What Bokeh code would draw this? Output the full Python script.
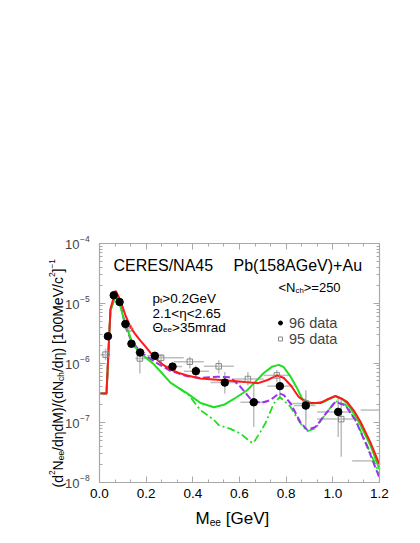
import math
import numpy as np
from bokeh.plotting import figure
from bokeh.models import (Label, Legend, LegendItem, LinearAxis, LogAxis, FixedTicker,
                          SingleIntervalTicker, CustomJSTickFormatter, PrintfTickFormatter,
                          Range1d, ColumnDataSource)
from bokeh.embed import file_html
from bokeh.resources import INLINE

# ---------------- data ----------------
# 96 data (filled circles)
d96_m   = [0.036, 0.061, 0.086, 0.111, 0.137, 0.174, 0.237, 0.313, 0.413, 0.537, 0.661, 0.773, 0.884, 1.023]
d96_y   = [2.8e-6, 1.36e-5, 1.05e-5, 4.5e-6, 2.1e-6, 1.5e-6, 1.32e-6, 8.7e-7, 7.3e-7, 4.7e-7, 2.2e-7, 4.1e-7, 1.94e-7, 1.52e-7]
d96_mlo = [0.036, 0.061, 0.086, 0.111, 0.137, 0.154, 0.204, 0.276, 0.361, 0.476, 0.604, 0.719, 0.833, 0.933]
d96_mhi = [0.036, 0.061, 0.086, 0.111, 0.137, 0.197, 0.276, 0.354, 0.469, 0.604, 0.719, 0.833, 0.926, 1.090]
d96_ylo = [2.5e-6, 1.25e-5, 9.6e-6, 4.1e-6, 1.9e-6, 1.3e-6, 1.15e-6, 7.5e-7, 5.9e-7, 3.1e-7, 8.5e-8, 2.7e-7, 8.5e-8, 5.8e-8]
d96_yhi = [3.1e-6, 1.47e-5, 1.15e-5, 4.9e-6, 2.3e-6, 1.7e-6, 1.5e-6, 1.0e-6, 9.0e-7, 7.1e-7, 4.5e-7, 5.9e-7, 3.5e-7, 2.7e-7]

# 95 data (open squares)
d95_m   = [0.026, 0.126, 0.173, 0.264, 0.387, 0.511, 0.636, 0.760, 0.884, 1.036, 1.250, 1.240]
d95_y   = [1.38e-6, 3.8e-6, 1.19e-6, 1.22e-6, 1.05e-6, 8.8e-7, 5.4e-7, 6.2e-7, 2.1e-7, 1.15e-7, 1.63e-7, 2.3e-8]
d95_mlo = [0.004, 0.104, 0.154, 0.204, 0.319, 0.447, 0.576, 0.704, 0.819, 0.933, 1.119, 1.083]
d95_mhi = [0.047, 0.147, 0.197, 0.361, 0.447, 0.576, 0.704, 0.819, 0.933, 1.104, 1.381, 1.397]
d95_ylo = [1.11e-6, 3.4e-6, 6.7e-7, 9.8e-7, 8.1e-7, 6.7e-7, 4.25e-7, 4.8e-7, 1.1e-7, 2.7e-8, 1.63e-7, 2.3e-8]
d95_yhi = [1.75e-6, 4.3e-6, 1.54e-6, 1.4e-6, 1.27e-6, 1.11e-6, 7.1e-7, 7.6e-7, 3.1e-7, 2.4e-7, 1.63e-7, 2.3e-8]

# model curves
red_m = [0.004, 0.030, 0.047, 0.069, 0.090, 0.111, 0.133, 0.150, 0.176, 0.200, 0.233, 0.270, 0.304, 0.340,
         0.376, 0.433, 0.504, 0.576, 0.647, 0.680, 0.720, 0.762, 0.790, 0.820, 0.854, 0.890, 0.947, 0.980,
         1.011, 1.040, 1.061, 1.090, 1.119, 1.161, 1.200]
red_y = [3.1e-7, 3.1e-7, 8.1e-6, 1.62e-5, 1.12e-5, 6.3e-6, 4.0e-6, 3.16e-6, 2.34e-6, 1.82e-6, 1.26e-6, 9.5e-7,
         7.8e-7, 6.8e-7, 6.2e-7, 5.5e-7, 5.25e-7, 5.0e-7, 4.7e-7, 4.6e-7, 5.2e-7, 6.2e-7, 5.6e-7, 4.2e-7,
         2.7e-7, 2.14e-7, 2.14e-7, 2.5e-7, 2.8e-7, 2.5e-7, 2.24e-7, 1.6e-7, 1.03e-7, 4.7e-8, 2.0e-8]

green_m = [0.004, 0.030, 0.047, 0.069, 0.090, 0.111, 0.126, 0.140, 0.176, 0.233, 0.270, 0.304, 0.340, 0.376,
           0.433, 0.490, 0.533, 0.576, 0.633, 0.704, 0.740, 0.769, 0.790, 0.819, 0.845, 0.869, 0.911, 0.961,
           1.011, 1.040, 1.061, 1.090, 1.119, 1.161, 1.200]
green_y = [3.1e-7, 3.1e-7, 7.6e-6, 1.32e-5, 8.9e-6, 4.2e-6, 3.16e-6, 2.1e-6, 1.45e-6, 9.5e-7, 6.6e-7, 4.7e-7,
           3.8e-7, 3.1e-7, 2.14e-7, 1.82e-7, 2.0e-7, 2.5e-7, 3.5e-7, 6.8e-7, 8.7e-7, 9.3e-7, 8.5e-7, 5.9e-7,
           3.9e-7, 2.5e-7, 2.1e-7, 2.24e-7, 2.8e-7, 2.5e-7, 2.1e-7, 1.45e-7, 9.1e-8, 4.2e-8, 1.66e-8]

purple_m = [0.004, 0.030, 0.047, 0.069, 0.090, 0.111, 0.133, 0.176, 0.233, 0.304, 0.376, 0.433, 0.504, 0.562,
            0.604, 0.625, 0.647, 0.690, 0.733, 0.769, 0.790, 0.819, 0.861, 0.890, 0.926, 0.969, 1.011, 1.054,
            1.097, 1.147, 1.200]
purple_y = [3.1e-7, 3.1e-7, 7.6e-6, 1.45e-5, 9.5e-6, 4.2e-6, 2.5e-6, 1.51e-6, 1.07e-6, 7.4e-7, 6.0e-7, 5.6e-7,
            5.9e-7, 5.75e-7, 4.0e-7, 3.2e-7, 2.5e-7, 2.14e-7, 2.4e-7, 3.1e-7, 2.9e-7, 2.1e-7, 1.02e-7, 7.6e-8,
            8.5e-8, 1.41e-7, 2.24e-7, 1.95e-7, 1.1e-7, 4.0e-8, 1.2e-8]

gdd_m = [0.340, 0.383, 0.433, 0.490, 0.511, 0.561, 0.604, 0.647, 0.660, 0.690, 0.711, 0.747, 0.773, 0.819,
         0.861, 0.890, 0.926, 0.969, 1.011, 1.054, 1.097, 1.147, 1.200]
gdd_y = [3.8e-7, 2.9e-7, 1.62e-7, 1.12e-7, 9.1e-8, 7.9e-8, 6.6e-8, 4.8e-8, 4.6e-8, 7.1e-8, 9.8e-8, 2.1e-7,
         2.7e-7, 1.84e-7, 9.8e-8, 7.2e-8, 8.1e-8, 1.41e-7, 2.3e-7, 2.0e-7, 1.12e-7, 4.2e-8, 1.38e-8]

x_lim = (0.0, 1.2)
x_ticks_interval = 0.2
y_ticks = [1e-8, 1e-7, 1e-6, 1e-5, 1e-4]
y_tick_exps = ["\u22128", "\u22127", "\u22126", "\u22125", "\u22124"]

# ---------------- layout ----------------
W, H = 416, 540
FL, FT, FR, FB = 99, 243, 379, 482   # plot box edges in page pixels
FONT = "Liberation Sans"
ARIAL = {' ': 278, '(': 333, ')': 333, '+': 584, '-': 333, '.': 278, '/': 278, '<': 584, '=': 584,
         '>': 584, '[': 278, ']': 278, 'A': 667, 'C': 722, 'E': 667, 'G': 778, 'M': 833, 'N': 722,
         'P': 667, 'R': 722, 'S': 667, 'V': 667, 'a': 556, 'b': 556, 'c': 500, 'd': 556, 'e': 556,
         'h': 556, 'm': 833, 'p': 556, 'r': 333, 't': 278, 'u': 556, '\u03b7': 556, '\u0398': 778,
         '\u2212': 584}
for ch in "0123456789":
    ARIAL[ch] = 556


def tw(s, size):
    return sum(ARIAL.get(c, 556) for c in s) * size / 1000.0


# the frame covers the whole canvas; axes are pinned to the plot box with fixed_location
ylo_log, yhi_log = math.log10(y_ticks[0]), math.log10(y_ticks[-1])
ppu = (FR - FL) / (x_lim[1] - x_lim[0])
ppd = (FB - FT) / (yhi_log - ylo_log)
xr = Range1d(x_lim[0] - FL / ppu, x_lim[1] + (W - FR) / ppu)
yr = Range1d(10 ** (ylo_log - (H - FB) / ppd), 10 ** (yhi_log + FT / ppd))

p = figure(width=W, height=H, output_backend="svg", toolbar_location=None, title=None,
           y_axis_type="log", x_range=xr, y_range=yr, x_axis_location=None, y_axis_location=None,
           min_border_left=0, min_border_right=0, min_border_top=0, min_border_bottom=0)
p.xgrid.visible = False
p.ygrid.visible = False
p.outline_line_color = None
p.background_fill_color = "white"
p.border_fill_color = "white"


def sx(xp):
    return xp


def sy(yp):
    return H - yp


AX = "#a8a8a8"
empty = CustomJSTickFormatter(code="return ''")
xt = SingleIntervalTicker(interval=x_ticks_interval, num_minor_ticks=3)
minor_y = [m * t for t in y_ticks[:-1] for m in range(2, 10)]
yt = FixedTicker(ticks=y_ticks, minor_ticks=minor_y)
xb = (x_lim[0] - 1e-9, x_lim[1] + 1e-9)
yb = (y_ticks[0] * 0.9999, y_ticks[-1] * 1.0001)


def style_axis(ax):
    ax.axis_line_color = AX
    ax.axis_line_width = 1.2
    ax.major_tick_line_color = AX
    ax.minor_tick_line_color = AX
    ax.major_tick_in = 6
    ax.major_tick_out = 0
    ax.minor_tick_in = 3
    ax.minor_tick_out = 0
    ax.major_label_text_font = FONT
    ax.major_label_text_color = "black"


bottom = LinearAxis(ticker=xt, formatter=PrintfTickFormatter(format="%.1f"),
                    fixed_location=y_ticks[0], bounds=xb)
style_axis(bottom)
bottom.major_label_text_font_size = "13.5px"
bottom.major_label_standoff = 6
p.add_layout(bottom, "below")

top = LinearAxis(ticker=xt, formatter=empty, fixed_location=y_ticks[-1], bounds=xb)
style_axis(top)
p.add_layout(top, "above")

left = LogAxis(ticker=yt, formatter=empty, fixed_location=x_lim[0], bounds=yb)
style_axis(left)
p.add_layout(left, "left")

right = LogAxis(ticker=yt, formatter=empty, fixed_location=x_lim[1], bounds=yb)
style_axis(right)
p.add_layout(right, "right")


# ---------------- error bars (limited to the plot box) ----------------
def src(m, y, mlo, mhi, ylo, yhi):
    m, y, mlo, mhi = map(np.asarray, (m, y, mlo, mhi))
    return ColumnDataSource(dict(m=m, y=y, mlo=np.clip(mlo, *x_lim), mhi=np.clip(mhi, *x_lim),
                                 ylo=np.asarray(ylo), yhi=np.asarray(yhi),
                                 ma=np.where(m <= x_lim[1], 1.0, 0.0)))


s96 = src(d96_m, d96_y, d96_mlo, d96_mhi, d96_ylo, d96_yhi)
s95 = src(d95_m, d95_y, d95_mlo, d95_mhi, d95_ylo, d95_yhi)
EB = "#bdbdbd"
for s in (s95, s96):
    p.segment(x0="mlo", x1="mhi", y0="y", y1="y", source=s, line_color=EB, line_width=1.5)
    p.segment(x0="m", x1="m", y0="ylo", y1="yhi", source=s, line_color=EB, line_width=1.5,
              line_alpha="ma")

# ---------------- curves ----------------
p.line(gdd_m, gdd_y, line_color="#22dd22", line_width=1.8, line_dash="8 3 2 3")
p.line(purple_m, purple_y, line_color="#9933ee", line_width=2, line_dash="7 3")
p.line(green_m, green_y, line_color="#22dd22", line_width=2)
p.line(red_m, red_y, line_color="#ff1a1a", line_width=2)

# ---------------- markers ----------------
r95 = p.scatter("m", "y", source=s95, marker="square", size=5.5, fill_color="white", fill_alpha=0,
                line_color="#888888", line_width=1, line_alpha="ma")
r96 = p.scatter("m", "y", source=s96, marker="circle", size=7.5, fill_color="black", line_color="black")

leg = Legend(items=[LegendItem(label="96 data", renderers=[r96]),
                    LegendItem(label="95 data", renderers=[r95])],
             location=(275, H - 346.5), orientation="vertical",
             glyph_width=10, glyph_height=15, label_height=15, spacing=-4, padding=0, margin=0,
             label_standoff=4, label_text_font=FONT, label_text_font_size="14.5px",
             background_fill_alpha=0, border_line_alpha=0)
p.add_layout(leg, "center")


# ---------------- texts ----------------
def lab(text, xp, yp, size, angle=0.0, align="left", color="black"):
    p.add_layout(Label(x=sx(xp), y=sy(yp), x_units="screen", y_units="screen", text=text,
                       text_font=FONT, text_font_size="%.1fpx" % size, text_color=color,
                       text_align=align, text_baseline="alphabetic", angle=angle))


def rich(parts, xp, yp, size, rotated=False):
    pos = 0.0
    for text, kind in parts:
        if kind == "n":
            fs, shift = size, 0.0
        elif kind == "sub":
            fs, shift = size * 0.6, -0.22 * size
        else:
            fs, shift = size * 0.6, 0.42 * size
        lead = len(text) - len(text.lstrip(" "))
        pos += tw(" " * lead, fs)
        body = text.lstrip(" ")
        if rotated:
            lab(body, xp - shift, yp - pos, fs, angle=math.pi / 2)
        else:
            lab(body, xp + pos, yp - shift, fs)
        pos += tw(body, fs)


lab("CERES/NA45", 113, 265, 16)
lab("Pb(158AGeV)+Au", 233, 265, 16)
rich([("<N", "n"), ("ch", "sub"), (">=250", "n")], 278, 287, 13)
rich([("p", "n"), ("t", "sub"), (">0.2GeV", "n")], 152, 297.5, 13.5)
rich([("2.1<\u03b7<2.65", "n")], 152, 312.5, 13.5)
rich([("\u0398", "n"), ("ee", "sub"), (">35mrad", "n")], 152, 326.5, 13.5)

# x axis title
rich([("M", "n"), ("ee", "sub"), (" [GeV]", "n")], 195, 518, 17)
# y axis title (rotated)
rich([("(d", "n"), ("2", "sup"), ("N", "n"), ("ee", "sub"), ("/d\u03b7dM)/(dN", "n"), ("ch", "sub"),
      ("/d\u03b7) [100MeV/c", "n"), ("2", "sup"), ("]", "n"), ("\u22121", "sup")],
     57, 487, 14, rotated=True)

# y tick labels
for t, e in zip(y_ticks, y_tick_exps):
    p.add_layout(Label(x=sx(79), y=t, x_units="screen", y_units="data", text="10",
                       text_font=FONT, text_font_size="13px", text_align="right",
                       text_baseline="middle", y_offset=-1))
    p.add_layout(Label(x=sx(79.5), y=t, x_units="screen", y_units="data", text=e,
                       text_font=FONT, text_font_size="8.5px", text_align="left",
                       text_baseline="middle", y_offset=4.5))

open("out.html", "w").write(file_html(p, INLINE))
